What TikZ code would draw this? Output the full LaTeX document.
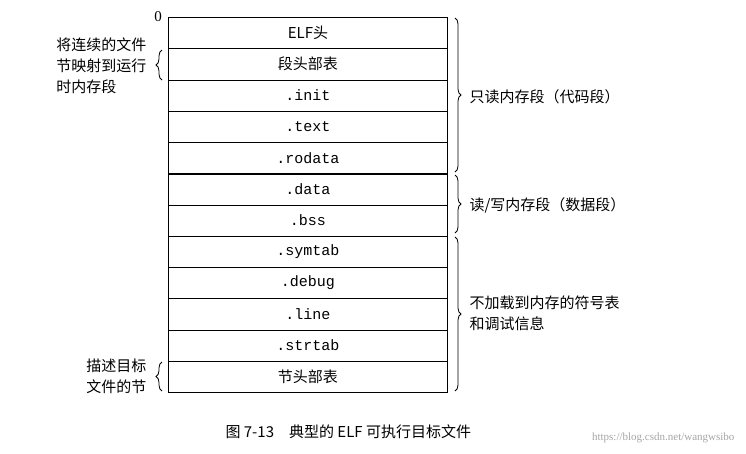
\documentclass[tikz,border=0pt]{standalone}
\usepackage{fontspec}
\setmainfont{Liberation Serif}
\newfontfamily\cjk{Noto Sans CJK SC}
\newfontfamily\mono{Liberation Mono}
\usetikzlibrary{decorations.pathreplacing}
\begin{document}
\begin{tikzpicture}[x=1pt,y=-1pt,
  row/.style={draw,thick,minimum width=279pt,minimum height=31.25pt,inner sep=0pt,anchor=north west,font=\fontsize{15}{17}\selectfont},
  br/.style={decorate,decoration={brace,amplitude=6pt},thick},
  lab/.style={font=\cjk\fontsize{15}{21}\selectfont,align=left}]
\useasboundingbox (0,0) rectangle (746,453);
\fill[white] (0,0) rectangle (746,453);
\foreach \t [count=\i from 0] in {{\cjk ELF头},{\cjk 段头部表},{\mono .init},{\mono .text},{\mono .rodata},{\mono .data},{\mono .bss},{\mono .symtab},{\mono .debug},{\mono .line},{\mono .strtab},{\cjk 节头部表}}
  \node[row] (r\i) at (168,{17+31.25*\i}) {\t};
\draw[very thick] (r4.south west) -- (r4.south east);
\draw[very thick] (r6.south west) -- (r6.south east);
\node[font=\fontsize{15}{17}\selectfont] (z) at (158,17) {0};
\draw[br] (455,18) -- (455,172);
\node[lab,anchor=west] (l1) at (466,97) {只读内存段（代码段）};
\draw[br] (455,175) -- (455,233);
\node[lab,anchor=west] (l2) at (466,205) {读/写内存段（数据段）};
\draw[br] (455,237) -- (455,391);
\node[lab,anchor=west] (l3) at (466,313) {不加载到内存的符号表\\和调试信息};
\draw[br] (162,80) -- (162,50);
\node[lab,anchor=east,align=left] (l4) at (150,66) {将连续的文件\\节映射到运行\\时内存段};
\draw[br] (162,391) -- (162,362);
\node[lab,anchor=east,align=left] (l5) at (150,376) {描述目标\\文件的节};
\node[font=\cjk\fontsize{15}{17}\selectfont,anchor=west] (cap) at (222,432) {图 7-13\quad 典型的 ELF 可执行目标文件};
\node[font=\fontsize{11}{12}\selectfont,text=gray!70,anchor=east] (wm) at (738,438) {https://blog.csdn.net/wangwsibo};
\end{tikzpicture}
\end{document}
